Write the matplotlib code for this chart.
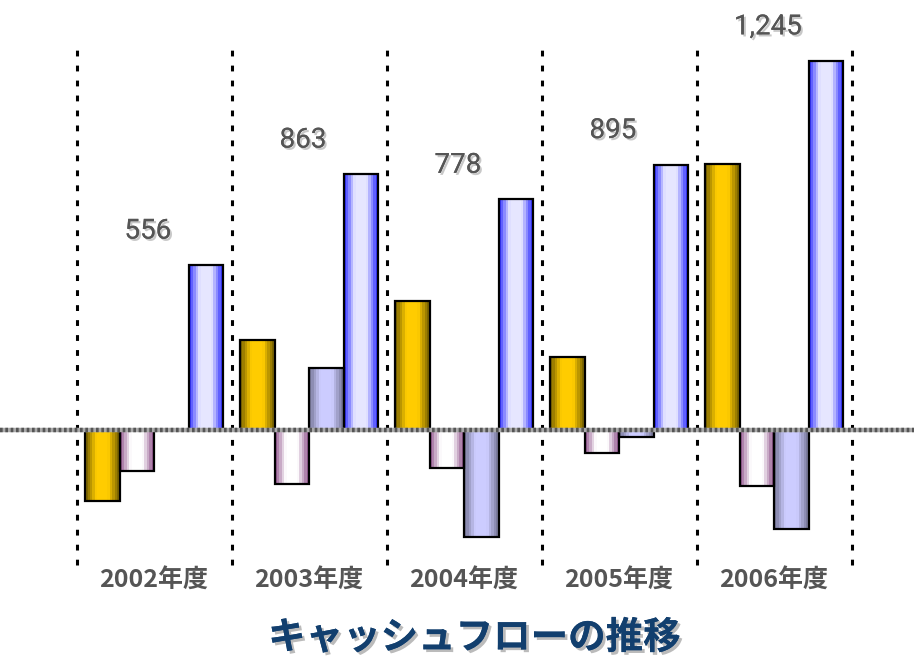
import matplotlib.pyplot as plt
import matplotlib.patheffects as pe
from matplotlib.colors import LinearSegmentedColormap
import numpy as np

plt.rcParams['font.family'] = ['Noto Sans CJK JP', 'DejaVu Sans']

# データ (百万円想定)
years = ["2002年度", "2003年度", "2004年度", "2005年度", "2006年度"]
series_a = [-240, 303, 435, 246, 897]      # 金色
series_b = [-138, -182, -128, -78, -189]   # ピンク
series_c = [0, 209, -361, -24, -334]       # 灰青
series_d = [556, 863, 778, 895, 1245]      # 青
d_labels = ["556", "863", "778", "895", "1,245"]

# グラデーション (端 -> 中央 -> 端)
grad = {
    "a": ["#6e5a00", "#ffcc00", "#ffcc00", "#6e5a00"],
    "b": ["#8a4a86", "#ffffff", "#ffffff", "#8a4a86"],
    "c": ["#70708f", "#ccccff", "#ccccff", "#70708f"],
    "d": ["#2222ff", "#e6e6ff", "#e6e6ff", "#2222ff"],
}

fig = plt.figure(figsize=(9.14, 6.59), dpi=100)
ax = fig.add_axes([0, 0, 1, 1])
ax.axis("off")

x = np.arange(len(years))
w = 0.2226
offs = [-1.5 * w, -0.5 * w, 0.5 * w, 1.5 * w]
nstripe = 14
t = (np.arange(nstripe) + 0.5) / nstripe

for key, vals, off in zip("abcd", [series_a, series_b, series_c, series_d], offs):
    cmap = LinearSegmentedColormap.from_list(key, grad[key])
    vals = np.array(vals)
    keep = vals != 0
    # 縦ストライプでグラデーション
    for k in range(nstripe):
        sx = x + off - w / 2 + (k + 0.5) * w / nstripe
        ax.bar(sx[keep], vals[keep], w / nstripe * 1.02, color=cmap(t[k]),
               linewidth=0, zorder=2)
    ax.bar(x[keep] + off, vals[keep], w, facecolor="none", edgecolor="black",
           linewidth=1.6, zorder=3)

ax.set_xlim(-0.994, 4.903)
ax.set_ylim(-772.6, 1450.7)

# 区切り線
for s in np.arange(-0.5, len(years) + 0.5):
    ax.plot([s, s], [-455, 1299], color="black", lw=2.2,
            linestyle=(0, (1.9, 3.0)), zorder=1)

# 基準線
ax.axhline(0, color="#aaaaaa", lw=3.2, zorder=4)
ax.axhline(0, color="#555555", lw=3.2, linestyle=(0, (0.6, 0.6)), zorder=4)

shadow = [pe.withSimplePatchShadow(offset=(1.5, -1.5), shadow_rgbFace="#bbbbbb", alpha=0.8),
          pe.Normal()]

for i, (v, lab) in enumerate(zip(series_d, d_labels)):
    ax.text(i - 0.04, v + 115, lab, ha="center", va="center", fontsize=20,
            color="#555555", family=["Roboto", "DejaVu Sans"], path_effects=shadow)
    ax.text(i, -508, years[i], ha="center", va="center", fontsize=18,
            fontweight="bold", color="#555555")

fig.text(0.519, 0.033, "キャッシュフローの推移", ha="center", va="center",
         fontsize=27, fontweight="bold", color="#123f6e",
         path_effects=[pe.withSimplePatchShadow(offset=(2, -2), shadow_rgbFace="#aaaaaa", alpha=0.8),
                       pe.Normal()])

fig.savefig("out.png", dpi=100)
